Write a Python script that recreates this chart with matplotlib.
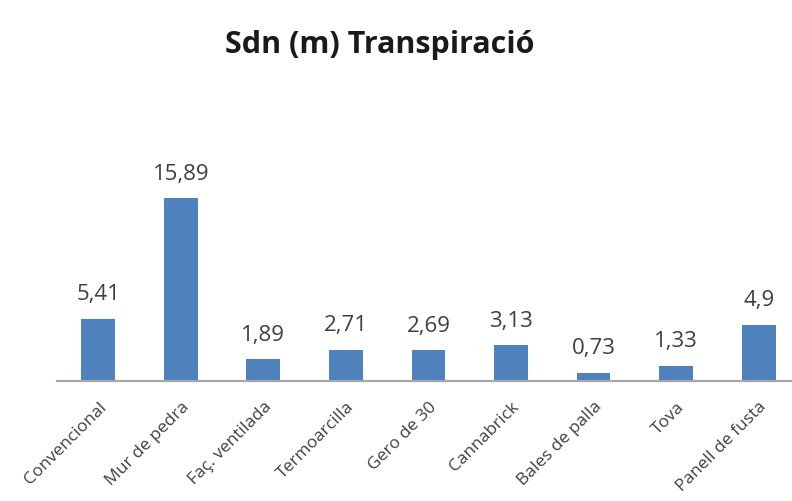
import matplotlib.pyplot as plt

categories = ['Convencional', 'Mur de pedra', 'Faç. ventilada', 'Termoarcilla',
              'Gero de 30', 'Cannabrick', 'Bales de palla', 'Tova', 'Panell de fusta']
values = [5.41, 15.89, 1.89, 2.71, 2.69, 3.13, 0.73, 1.33, 4.9]
value_labels = ['5,41', '15,89', '1,89', '2,71', '2,69', '3,13', '0,73', '1,33', '4,9']

plt.rcParams['font.family'] = ['Open Sans', 'DejaVu Sans']

fig = plt.figure(figsize=(7.92, 5.01), dpi=100)
ax = fig.add_axes([0.072, 0.2395, 0.938, 0.413])

x = range(len(categories))
bars = ax.bar(x, values, width=0.41, color='#4F81BD')
for b, lab in zip(bars, value_labels):
    ax.text(b.get_x() + b.get_width() / 2, b.get_height() + 1.6, lab,
            ha='center', va='baseline', fontsize=16, color='#404040')

ax.set_xlim(-0.5, len(categories) - 0.5)
ax.set_ylim(0, 18)
ax.set_yticks([])
ax.set_xticks(list(x))
ax.set_xticklabels(categories, rotation=45, ha='right', rotation_mode='anchor',
                   fontsize=12.5, color='#404040')
ax.tick_params(axis='x', length=0, pad=13)
for s in ['top', 'right', 'left']:
    ax.spines[s].set_visible(False)
ax.spines['bottom'].set_color('#A6A6A6')
ax.spines['bottom'].set_linewidth(1.6)

# title sits a little left of centre in the original
fig.text(0.48, 0.91, 'Sdn (m) Transpiració', ha='center', va='center',
         fontsize=22, fontweight='bold', color='#1a1a1a')

plt.savefig('out.png', dpi=100)
plt.close()
